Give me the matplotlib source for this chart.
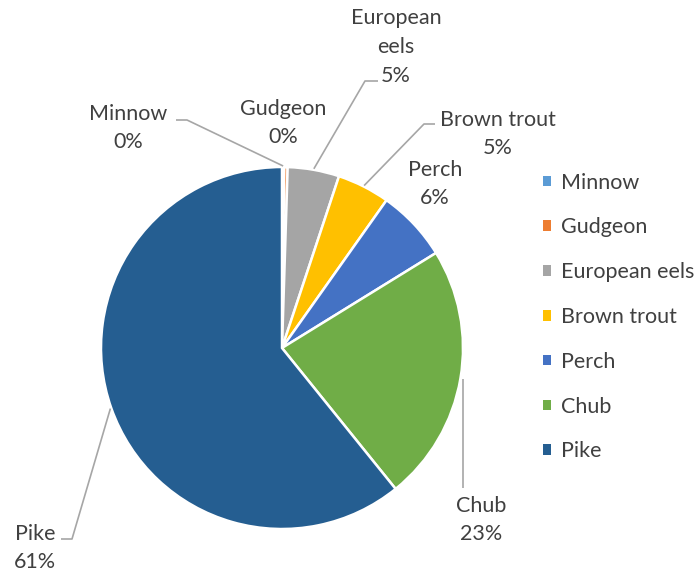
import numpy as np
import matplotlib.pyplot as plt

species = ['Minnow', 'Gudgeon', 'European eels', 'Brown trout', 'Perch', 'Chub', 'Pike']
share = [0.2, 0.3, 4.6, 4.7, 6.4, 23.0, 60.8]
colors = ['#5B9BD5', '#ED7D31', '#A5A5A5', '#FFC000', '#4472C4', '#70AD47', '#255E91']

W, H = 700, 575
cx, cy, r = 282, 348, 181   # pie centre / radius in pixels (y from top)

plt.rcParams['font.family'] = ['Lato', 'DejaVu Sans']
txt_color = '#404040'
fs = 15.5

fig = plt.figure(figsize=(W / 100, H / 100), dpi=100)
ax = fig.add_axes([0, 0, 1, 1])

wedges, _ = ax.pie(share, colors=colors, startangle=90, counterclock=False,
                   center=(cx, H - cy), radius=r,
                   wedgeprops=dict(edgecolor='white', linewidth=1.8))

# pie() sets its own limits, so put the pixel frame back afterwards
ax.set_xlim(0, W)
ax.set_ylim(0, H)
ax.set_aspect('equal')
ax.axis('off')

# data labels: text centre and leader path after the wedge anchor
label_text = {
    'Minnow': ('Minnow', (128, 128)),
    'Gudgeon': ('Gudgeon', (283, 123)),
    'European eels': ('European\neels', (396, 47)),
    'Brown trout': ('Brown trout', (498, 134)),
    'Perch': ('Perch', (435, 184)),
    'Chub': ('Chub', (481, 520)),
    'Pike': ('Pike', (35, 548)),
}
leaders = {
    'Minnow': [(187, 120), (176, 120)],
    'European eels': [(365, 81), (378, 81)],
    'Brown trout': [(424, 124), (435, 124)],
    'Chub': [(463, 488)],
    'Pike': [(72, 539), (61, 539)],
}

cum = np.cumsum([0] + share)
total = cum[-1]
for i, name in enumerate(species):
    label, (tx, ty) = label_text[name]
    pct = share[i] / total * 100
    ax.text(tx, H - ty, f'{label}\n{pct:.0f}%', ha='center', va='center',
            fontsize=fs, color=txt_color, linespacing=1.55)
    if name in leaders:
        t = np.radians((cum[i] + share[i] / 2) / total * 360)
        r0 = r + 1
        pts = [(cx + r0 * np.sin(t), cy - r0 * np.cos(t))] + leaders[name]
        if name == 'Chub':
            pts[0] = (pts[1][0], pts[0][1])
        xs = [p[0] for p in pts]
        ys = [H - p[1] for p in pts]
        ax.plot(xs, ys, color='#A6A6A6', lw=1.2, solid_capstyle='butt')

leg = ax.legend(wedges, species, loc='center left',
                bbox_to_anchor=(543 / W, 1 - 317 / H), frameon=False,
                fontsize=fs, handlelength=0.38, handleheight=0.38,
                handletextpad=0.45, labelspacing=1.15, borderpad=0,
                borderaxespad=0)
for t in leg.get_texts():
    t.set_color(txt_color)
for h in leg.legend_handles:
    h.set_edgecolor('none')

fig.savefig('out.png', dpi=100)
